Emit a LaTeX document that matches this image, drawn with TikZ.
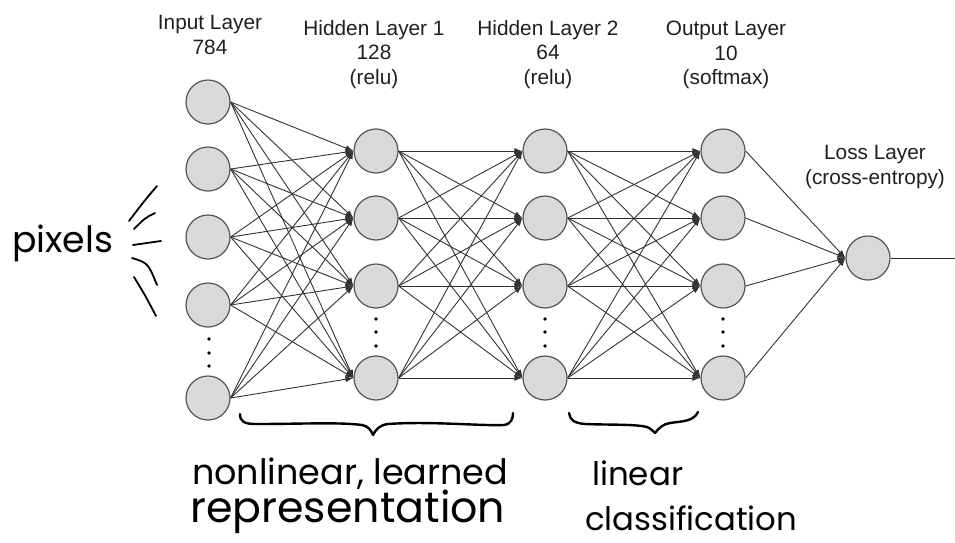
\documentclass[tikz,border=0pt]{standalone}
\usepackage{fontspec}
\setmainfont{Liberation Sans}
\newfontfamily\handfont{Poppins}
\usetikzlibrary{arrows.meta}

\begin{document}
\begin{tikzpicture}[x=1pt,y=-1pt,
  neuron/.style={circle,draw=black!67,fill=black!15,line width=1.2pt,minimum size=44pt,inner sep=0pt},
  conn/.style={draw=black!80,line width=0.9pt,-{Latex[length=8pt,width=6pt]}},
  plainconn/.style={draw=black!80,line width=0.9pt},
  lbl/.style={font=\fontsize{20.8}{24.5}\selectfont,text=black!88,align=center,inner sep=0pt,anchor=north},
  dotmark/.style={circle,fill=black,inner sep=0pt,minimum size=3.6pt},
  hand/.style={inner sep=0pt,anchor=base west},
  ink/.style={line width=2.4pt,line cap=round,line join=round},
  thinink/.style={line width=1.8pt,line cap=round,line join=round}
]
\useasboundingbox (0,0) rectangle (955,542);

% layers of neurons
\foreach \y [count=\k] in {102,169,237,305,398}
  \node[neuron] (i\k) at (208,\y) {};
\foreach \y [count=\k] in {151,218,286,378} {
  \node[neuron] (h\k) at (376,\y) {};
  \node[neuron] (g\k) at (545,\y) {};
  \node[neuron] (o\k) at (723,\y) {};
}
\node[neuron] (loss) at (868,258) {};

% vertical ellipses between the last two neurons of each layer
\foreach \y [count=\k] in {339,353,366}
  \node[dotmark] (di\k) at (209,\y) {};
\foreach \y [count=\k] in {319,332,346} {
  \node[dotmark] (dh\k) at (376,\y) {};
  \node[dotmark] (dg\k) at (545,\y) {};
  \node[dotmark] (do\k) at (723,\y) {};
}

% fully connected weights
\foreach \a in {1,...,5}
  \foreach \b in {1,...,4}
    \draw[conn] (i\a.east) -- (h\b.west);
\foreach \a in {1,...,4}
  \foreach \b in {1,...,4} {
    \draw[conn] (h\a.east) -- (g\b.west);
    \draw[conn] (g\a.east) -- (o\b.west);
  }
\foreach \a in {1,...,4}
  \draw[conn] (o\a.east) -- (loss.west);
\coordinate (lossout) at (955,258);
\draw[plainconn] (loss.east) -- (lossout);

% layer titles
\node[lbl] (inlbl) at (210,15) {Input Layer\\784};
\node[lbl] (h1lbl) at (374,20) {Hidden Layer 1\\128\\(relu)};
\node[lbl] (h2lbl) at (548,20) {Hidden Layer 2\\64\\(relu)};
\node[lbl] (outlbl) at (726,21) {Output Layer\\10\\(softmax)};
\node[lbl] (losslbl) at (875,145) {Loss Layer\\(cross-entropy)};

% handwritten notes
\node[hand] (pixtext) at (12,252) {\resizebox{101pt}{!}{\handfont pixels}};
\node[hand] (nltext) at (192,484) {\resizebox{316pt}{!}{\handfont nonlinear, learned}};
\node[hand] (reptext) at (190,522) {\resizebox{315pt}{!}{\handfont representation}};
\node[hand] (lintext) at (592,485) {\resizebox{91pt}{!}{\handfont linear}};
\node[hand] (clstext) at (585,530) {\resizebox{212pt}{!}{\handfont classification}};

% strokes fanning out from the pixels note
\draw[thinink] (157,186) .. controls (145,200) .. (129,221);
\draw[thinink] (155,213) .. controls (145,218) .. (134,229);
\draw[thinink] (133,245) -- (161,241);
\draw[thinink] (132,258) .. controls (148,263) .. (157,285);
\draw[thinink] (134,277) .. controls (145,295) .. (156,316);

% braces under the groups of layers
\draw[ink] (240,414) .. controls (240,422) and (245,424) .. (256,424)
  .. controls (300,424) and (340,422) .. (362,425)
  .. controls (368,426) and (371,430) .. (373,435)
  .. controls (376,429) and (380,425) .. (388,424)
  .. controls (430,421) and (480,426) .. (504,425)
  .. controls (511,424) and (513,419) .. (513,413);
\draw[ink] (569,413) .. controls (570,420) and (574,423) .. (585,424)
  .. controls (610,425) and (635,424) .. (647,427)
  .. controls (650,428) and (653,431) .. (655,433)
  .. controls (659,428) and (663,424) .. (670,423)
  .. controls (682,421) and (693,422) .. (698,412);
\end{tikzpicture}
\end{document}
